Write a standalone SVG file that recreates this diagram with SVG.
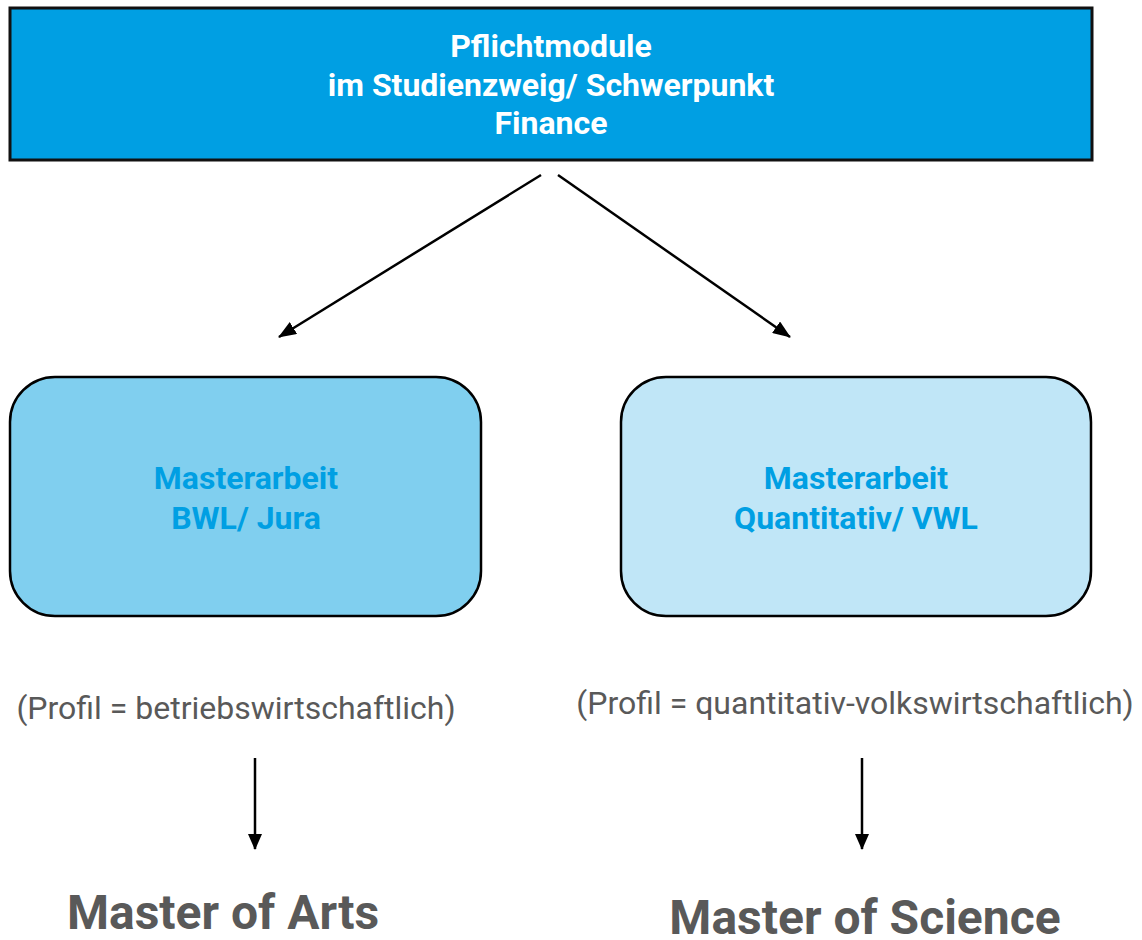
<svg xmlns="http://www.w3.org/2000/svg" width="1142" height="940" viewBox="0 0 1142 940">
<defs>
<marker id="ah" markerWidth="16" markerHeight="14" refX="15" refY="7" orient="auto" markerUnits="userSpaceOnUse" viewBox="0 0 16 14">
<path d="M0,0 L16,7 L0,14 z" fill="#000"/>
</marker>
<marker id="ah2" markerWidth="18" markerHeight="14" refX="17" refY="7" orient="auto" markerUnits="userSpaceOnUse" viewBox="0 0 18 14">
<path d="M0,0 L18,7 L0,14 z" fill="#000"/>
</marker>
</defs>
<style>
.t{font-family:Roboto,"Liberation Sans",sans-serif;font-weight:bold;text-anchor:middle}
.top{fill:#fff;font-size:32px}
.mid{fill:#009fe3;font-size:32px}
.prof{font-family:Roboto,"Liberation Sans",sans-serif;fill:#595959;font-size:32px;text-anchor:middle}
.deg{fill:#595959;font-size:48px}
.box{stroke:#000;stroke-width:2.5}
.con{stroke:#000;stroke-width:2.5;fill:none}
</style>
<rect width="1142" height="940" fill="#fff"/>
<g id="top">
<rect x="10" y="8" width="1082" height="152" fill="#009fe3" stroke="#111" stroke-width="3"/>
<text class="t top" x="551" y="57">Pflichtmodule</text>
<text class="t top" x="551" y="96">im Studienzweig/ Schwerpunkt</text>
<text class="t top" x="551" y="134">Finance</text>
</g>
<g id="left">
<rect class="box" x="10" y="377" width="471" height="239" rx="45" fill="#80cfef"/>
<text class="t mid" x="246" y="489">Masterarbeit</text>
<text class="t mid" x="246" y="529">BWL/ Jura</text>
</g>
<g id="right">
<rect class="box" x="621" y="377" width="470" height="239" rx="45" fill="#c0e6f7"/>
<text class="t mid" x="856" y="489">Masterarbeit</text>
<text class="t mid" x="856" y="529">Quantitativ/ VWL</text>
</g>
<g id="profil-left"><text class="prof" x="236" y="719">(Profil = betriebswirtschaftlich)</text></g>
<g id="profil-right"><text class="prof" x="855" y="714">(Profil = quantitativ-volkswirtschaftlich)</text></g>
<g id="arts"><text class="t deg" x="223" y="929">Master of Arts</text></g>
<g id="science"><text class="t deg" x="865" y="934">Master of Science</text></g>
<g id="connectors">
<line class="con" x1="541" y1="175" x2="279" y2="337" marker-end="url(#ah2)"/>
<line class="con" x1="558" y1="175" x2="790" y2="337" marker-end="url(#ah2)"/>
<line class="con" x1="255" y1="758" x2="255" y2="849" stroke-width="2" marker-end="url(#ah)"/>
<line class="con" x1="862" y1="758" x2="862" y2="849" stroke-width="2" marker-end="url(#ah)"/>
</g>
</svg>
